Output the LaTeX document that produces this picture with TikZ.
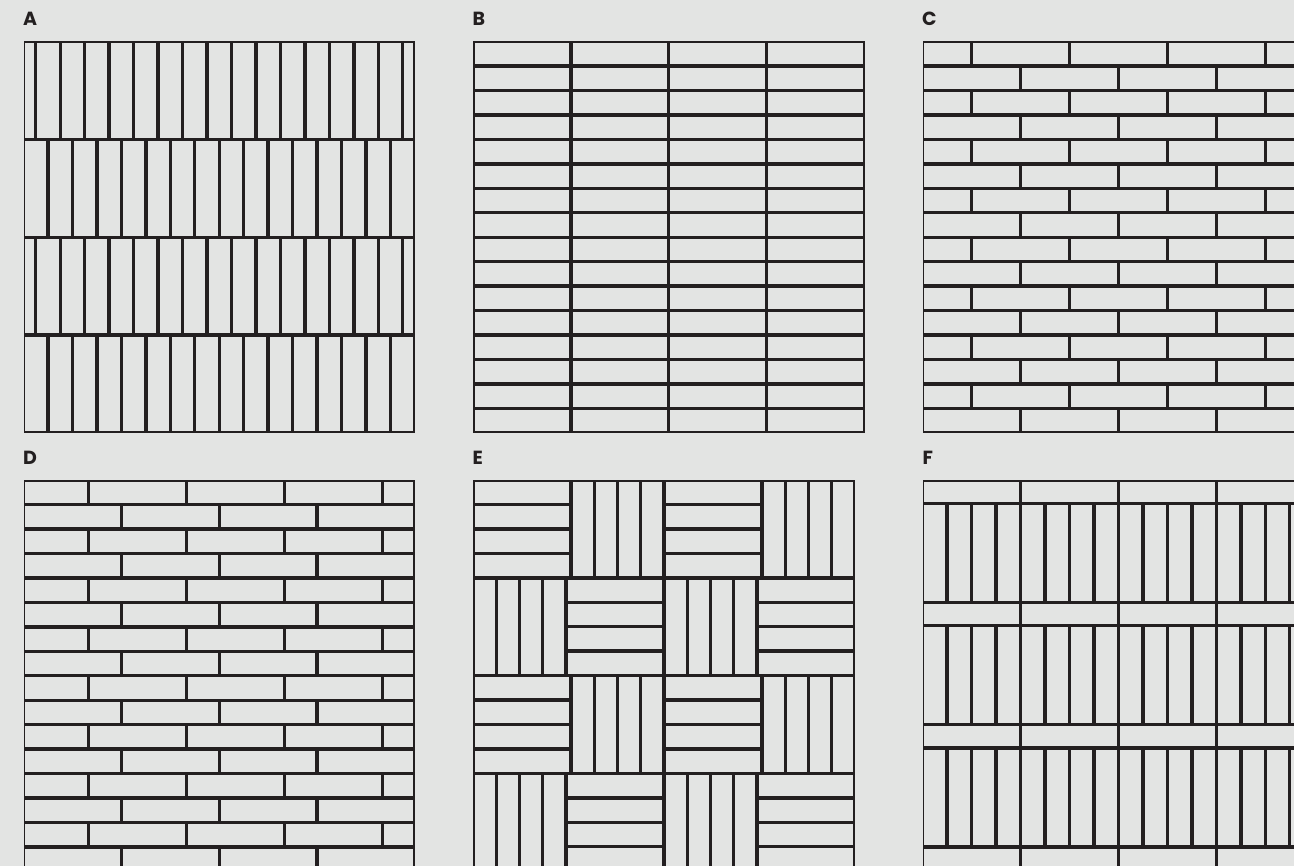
\documentclass[tikz,border=0pt]{standalone}
\usepackage{fontspec}
\setmainfont{Poppins}
\definecolor{bg}{HTML}{E3E4E3}
\definecolor{ink}{HTML}{231F20}
\tikzset{
  tilebox/.style={draw=ink, fill=bg, line width=1.7pt},
  lbl/.style={anchor=base west, inner sep=0pt, text=ink, font=\fontsize{19}{19}\selectfont\bfseries}
}
\newcommand{\mytile}[4]{\draw[tilebox] ({#1+0.85},{#2+0.85}) rectangle ({#3-0.85},{#4-0.85});}
% #1 x0, #2 x1, #3 y1, #4 y2, #5 offset, #6 length
\newcommand{\tilerow}[6]{%
  \foreach \k in {-1,...,20}{%
    \pgfmathsetmacro{\xa}{max(#1,(#1)+(#5)+(\k)*(#6))}%
    \pgfmathsetmacro{\xb}{min(#2,(#1)+(#5)+(\k+1)*(#6))}%
    \pgfmathtruncatemacro{\ok}{(\xb-\xa)>0.5}%
    \ifnum\ok=1 \mytile{\xa}{#3}{\xb}{#4}\fi
  }}
\begin{document}
\begin{tikzpicture}[x=1pt,y=-1pt]
\useasboundingbox (0,0) rectangle (1294,866);
\fill[bg] (0,0) rectangle (1294,866);
\clip (0,0) rectangle (1294,866);
% ---- A: vertical tiles in 4 bands, half offset
\foreach \b in {0,...,3}{
  \pgfmathsetmacro{\ya}{41.5+\b*97.875}
  \pgfmathsetmacro{\yb}{\ya+97.875}
  \pgfmathsetmacro{\off}{mod(\b,2)==0 ? 12.234 : 0}
  \tilerow{23.5}{415}{\ya}{\yb}{\off}{24.469}
}
% ---- B: stack bond
\foreach \r in {0,...,15}{
  \pgfmathsetmacro{\ya}{41.5+\r*24.469}
  \pgfmathsetmacro{\yb}{\ya+24.469}
  \tilerow{473}{864.5}{\ya}{\yb}{0}{97.875}
}
% ---- C: half bond
\foreach \r in {0,...,15}{
  \pgfmathsetmacro{\ya}{41.5+\r*24.469}
  \pgfmathsetmacro{\yb}{\ya+24.469}
  \pgfmathsetmacro{\off}{mod(\r,2)==0 ? 48.94 : 0}
  \tilerow{922.7}{1314.2}{\ya}{\yb}{\off}{97.875}
}
% ---- D: third offset
\foreach \r in {0,...,16}{
  \pgfmathsetmacro{\ya}{480+\r*24.469}
  \pgfmathsetmacro{\yb}{\ya+24.469}
  \pgfmathsetmacro{\off}{mod(\r,2)==0 ? 65.25 : 0}
  \tilerow{23.5}{415}{\ya}{\yb}{\off}{97.875}
}
% ---- E: basket weave
\foreach \r in {0,...,3}{
  \pgfmathsetmacro{\ya}{480+\r*97.8}
  \pgfmathsetmacro{\yb}{\ya+97.8}
  \foreach \g in {0,1}{
    \pgfmathsetmacro{\gx}{473+\g*191}
    \pgfmathtruncatemacro{\hfirst}{mod(\r,2)==0 ? 1 : 0}
    \ifnum\hfirst=1
      \pgfmathsetmacro{\hx}{\gx}
      \pgfmathsetmacro{\vx}{\gx+98}
    \else
      \pgfmathsetmacro{\vx}{\gx}
      \pgfmathsetmacro{\hx}{\gx+93}
    \fi
    \foreach \i in {0,...,3}{
      \mytile{\hx}{\ya+\i*24.45}{\hx+98}{\ya+\i*24.45+24.45}
    }
    \tilerow{\vx}{\vx+93}{\ya}{\yb}{0}{23.25}
  }
}
% ---- F: bands of horizontal tiles and vertical tiles
\foreach \p in {0,...,3}{
  \pgfmathsetmacro{\ya}{480+\p*122.3}
  \pgfmathsetmacro{\ym}{\ya+23.3}
  \pgfmathsetmacro{\yb}{\ya+122.3}
  \tilerow{922.7}{1314.2}{\ya}{\ym}{0}{97.875}
  \tilerow{922.7}{1314.2}{\ym}{\yb}{0}{24.469}
}
% ---- labels
\node[lbl] (labA) at (23,26) {A};
\node[lbl] (labB) at (472.4,26) {B};
\node[lbl] (labC) at (922,26) {C};
\node[lbl] (labD) at (23,464.3) {D};
\node[lbl] (labE) at (472.4,464.3) {E};
\node[lbl] (labF) at (922.4,464.3) {F};
\end{tikzpicture}
\end{document}
